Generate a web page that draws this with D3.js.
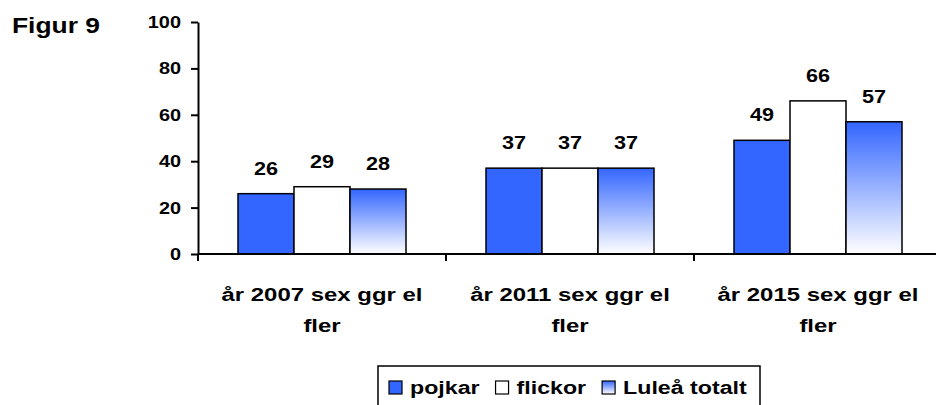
<!DOCTYPE html>
<html>
<head>
<meta charset="utf-8">
<script src="https://cdn.jsdelivr.net/npm/d3@7"></script>
<style>
  body { margin: 0; background: #fff; }
  svg text { font-family: Arial, "Liberation Sans", sans-serif; font-weight: bold; fill: #000; }
</style>
</head>
<body>
<div id="chart"></div>
<script>
// data
var categories = ['år 2007 sex ggr el fler', 'år 2011 sex ggr el fler', 'år 2015 sex ggr el fler'];
var series = ['pojkar', 'flickor', 'Luleå totalt'];
var pojkar = [26, 37, 49];
var flickor = [29, 37, 66];
var lulea = [28, 37, 57];
var yTicks = [0, 20, 40, 60, 80, 100];

var values = [pojkar, flickor, lulea];
var W = 936, H = 405;

var svg = d3.select('#chart').append('svg')
  .attr('width', W)
  .attr('height', H);

// the source picture has its text a bit wide, so stretch it sideways
function stext(parent, x, y, str, size, sx, anchor){
  return parent.append('text')
    .attr('transform', 'translate(' + x + ',' + y + ') scale(' + sx + ',1)')
    .attr('text-anchor', anchor || 'start')
    .style('font-size', size + 'px')
    .text(str);
}

var defs = svg.append('defs');
var grad = defs.append('linearGradient')
  .attr('id', 'grad')
  .attr('x1', 0).attr('y1', 0).attr('x2', 0).attr('y2', 1);
grad.append('stop').attr('offset', '0%').attr('stop-color', '#3366ff');
grad.append('stop').attr('offset', '100%').attr('stop-color', '#ffffff');

var fills = ['#3366ff', '#ffffff', 'url(#grad)'];

var x = d3.scaleBand().domain(categories).range([198, 942]);
var xs = d3.scaleBand().domain(series).range([40, 208]);
var y = d3.scaleLinear().domain([0, 100]).range([254, 22]);

// title
stext(svg, 12, 33, 'Figur 9', 22, 1.2);

// bars
var groups = svg.selectAll('g.grp')
  .data(categories)
  .enter().append('g')
  .attr('class', 'grp')
  .attr('transform', function(d){ return 'translate(' + x(d) + ',0)'; });

groups.each(function(c, ci){
  var g = d3.select(this);
  series.forEach(function(s, si){
    var v = values[si][ci];
    g.append('rect')
      .attr('x', xs(s))
      .attr('y', y(v))
      .attr('width', xs.bandwidth())
      .attr('height', y(0) - y(v))
      .attr('fill', fills[si])
      .attr('stroke', '#000')
      .attr('stroke-width', 1.5);
    stext(g, xs(s) + xs.bandwidth() / 2, y(v) - 19, v, 18, 1.2, 'middle');
  });
});

// y axis
var yAxis = svg.append('g')
  .attr('transform', 'translate(198,0)')
  .call(d3.axisLeft(y).tickValues(yTicks).tickSize(7).tickSizeOuter(0).tickFormat(''));
yAxis.select('.domain').attr('stroke-width', 2);
yAxis.selectAll('.tick line').attr('stroke-width', 2);
yTicks.forEach(function(t){
  stext(svg, 181, y(t) + 6, t, 17, 1.17, 'end');
});

// x axis: ticks on category borders
var xAxis = svg.append('g').attr('transform', 'translate(0,' + y(0) + ')');
xAxis.append('line')
  .attr('x1', 198).attr('x2', 942)
  .attr('stroke', '#000').attr('stroke-width', 2);
xAxis.selectAll('line.tk')
  .data(categories)
  .enter().append('line')
  .attr('class', 'tk')
  .attr('x1', function(d){ return x(d); })
  .attr('x2', function(d){ return x(d); })
  .attr('y1', 0).attr('y2', 7)
  .attr('stroke', '#000').attr('stroke-width', 2);

// category labels, two rows
categories.forEach(function(d){
  var words = d.split(' ');
  var cx = x(d) + x.bandwidth() / 2;
  stext(xAxis, cx, 47, words.slice(0, words.length - 1).join(' '), 19, 1.26, 'middle');
  stext(xAxis, cx, 78, words[words.length - 1], 19, 1.26, 'middle');
});

// legend
var leg = svg.append('g');
leg.append('rect')
  .attr('x', 378).attr('y', 366)
  .attr('width', 382).attr('height', 50)
  .attr('fill', '#fff').attr('stroke', '#000').attr('stroke-width', 1.5);
var lx = 389;
series.forEach(function(s, i){
  leg.append('rect')
    .attr('x', lx).attr('y', 381)
    .attr('width', 13).attr('height', 13)
    .attr('fill', fills[i]).attr('stroke', '#000').attr('stroke-width', 1.2);
  var t = stext(leg, lx + 21, 394, s, 19, 1.22);
  lx = lx + 21 + t.node().getComputedTextLength() * 1.22 + 16;
});
</script>
</body>
</html>
